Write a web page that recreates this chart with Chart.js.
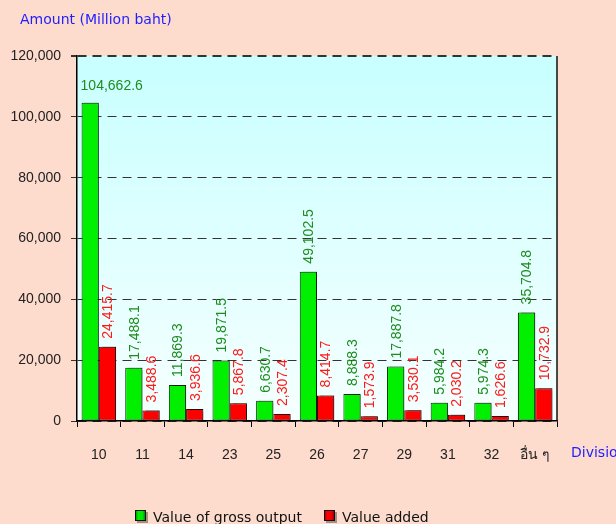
<!DOCTYPE html>
<html>
<head>
<meta charset="utf-8">
<script src="https://cdn.jsdelivr.net/npm/chart.js@4/dist/chart.umd.min.js"></script>
<style>
  html, body { margin: 0; padding: 0; background: #FDDCCD; }
  #wrap { width: 616px; height: 524px; position: relative; }
</style>
</head>
<body>
<div id="wrap"><canvas id="c" width="616" height="524"></canvas></div>
<script>
const categories = ['10', '11', '14', '23', '25', '26', '27', '29', '31', '32', 'อื่น ๆ'];
const grossOutput = [104662.6, 17488.1, 11869.3, 19871.5, 6630.7, 49102.5, 8888.3, 17887.8, 5984.2, 5974.3, 35704.8];
const valueAdded = [24415.7, 3488.6, 3936.6, 5867.8, 2307.4, 8414.7, 1573.9, 3530.1, 2030.2, 1626.6, 10732.9];
const yTicks = [0, 20000, 40000, 60000, 80000, 100000, 120000];
const seriesNames = ['Value of gross output', 'Value added'];
const yTitle = 'Amount (Million baht)';
const xTitle = 'Division';

const NUM_FONT = '"Liberation Sans", Arial, sans-serif';
const TXT_FONT = '"DejaVu Sans", Verdana, sans-serif';

function fmt(v) {
  return v.toLocaleString('en-US', { minimumFractionDigits: 1, maximumFractionDigits: 1 });
}

function barGradient(stops) {
  return function (context) {
    const chart = context.chart;
    const el = context.element;
    if (!chart.chartArea || !el || el.x === undefined || !isFinite(el.x)) return stops[1][1];
    const w = el.width || 16;
    const g = chart.ctx.createLinearGradient(el.x - w / 2, 0, el.x + w / 2, 0);
    stops.forEach(s => g.addColorStop(s[0], s[1]));
    return g;
  };
}

const greenStops = [[0, '#007A00'], [0.3, '#00F000'], [0.7, '#00E400'], [1, '#006400']];
const redStops = [[0, '#A00000'], [0.3, '#FF0000'], [0.7, '#EE0000'], [1, '#700000']];

const bgPlugin = {
  id: 'bgPlugin',
  beforeDraw(chart) {
    const { ctx, chartArea: a } = chart;
    ctx.save();
    ctx.fillStyle = '#FDDCCD';
    ctx.fillRect(0, 0, chart.width, chart.height);
    const g = ctx.createLinearGradient(0, a.top, 0, a.bottom);
    g.addColorStop(0, '#C8FFFF');
    g.addColorStop(1, '#F6FFFF');
    ctx.fillStyle = g;
    ctx.fillRect(a.left, a.top, a.right - a.left, a.bottom - a.top);
    ctx.restore();
  },
  beforeDatasetsDraw(chart) {
    const ctx = chart.ctx;
    ctx.save();
    ctx.shadowColor = 'rgba(0,0,0,0.35)';
    ctx.shadowOffsetX = 3;
    ctx.shadowOffsetY = -1;
    ctx.shadowBlur = 1;
  },
  afterDatasetsDraw(chart) {
    const ctx = chart.ctx;
    ctx.restore();
    const a = chart.chartArea;
    ctx.save();
    ctx.strokeStyle = '#111';
    ctx.lineWidth = 1.5;
    ctx.beginPath();
    ctx.moveTo(a.right, a.top);
    ctx.lineTo(a.right, a.bottom);
    ctx.stroke();
    ctx.restore();

    const colors = ['#1E8C1E', '#FF1A1A'];
    ctx.save();
    ctx.font = '14px ' + NUM_FONT;
    chart.data.datasets.forEach((ds, di) => {
      const meta = chart.getDatasetMeta(di);
      meta.data.forEach((bar, i) => {
        const text = fmt(ds.data[i]);
        const tw = ctx.measureText(text).width;
        ctx.fillStyle = colors[di];
        if (bar.y - 8 - tw < a.top + 2) {
          ctx.textAlign = 'left';
          ctx.textBaseline = 'alphabetic';
          ctx.fillText(text, bar.x - bar.width / 2 - 1, bar.y - 13);
        } else {
          ctx.save();
          ctx.translate(bar.x + 1, bar.y - 8);
          ctx.rotate(-Math.PI / 2);
          ctx.textAlign = 'left';
          ctx.textBaseline = 'middle';
          ctx.fillText(text, 0, 0);
          ctx.restore();
        }
      });
    });
    ctx.restore();
  },
  afterDraw(chart) {
    const ctx = chart.ctx;
    ctx.save();
    ctx.fillStyle = '#1E1EFF';
    ctx.font = '14px ' + TXT_FONT;
    ctx.textAlign = 'left';
    ctx.textBaseline = 'middle';
    ctx.fillText(yTitle, 20, 20);
    ctx.fillText(xTitle, 571, 453);

    const items = [
      { x: 135, fill: greenStops, text: seriesNames[0] },
      { x: 324, fill: redStops, text: seriesNames[1] }
    ];
    items.forEach(it => {
      const g = ctx.createLinearGradient(it.x, 0, it.x + 11, 0);
      it.fill.forEach(s => g.addColorStop(s[0], s[1]));
      ctx.fillStyle = 'rgba(0,0,0,0.35)';
      ctx.fillRect(it.x + 2, 512, 11, 11);
      ctx.fillStyle = g;
      ctx.fillRect(it.x, 510, 11, 11);
      ctx.strokeStyle = '#111';
      ctx.lineWidth = 1;
      ctx.strokeRect(it.x + 0.5, 510.5, 10, 10);
      ctx.fillStyle = '#111';
      ctx.textBaseline = 'alphabetic';
      ctx.font = '14px ' + TXT_FONT;
      ctx.fillText(it.text, it.x + 18, 522);
    });
    ctx.restore();
  }
};

new Chart(document.getElementById('c'), {
  type: 'bar',
  data: {
    labels: categories,
    datasets: [
      {
        label: seriesNames[0],
        data: grossOutput,
        backgroundColor: barGradient(greenStops),
        borderColor: '#003300',
        borderWidth: 1,
        borderSkipped: false,
        categoryPercentage: 0.79,
        barPercentage: 1.0
      },
      {
        label: seriesNames[1],
        data: valueAdded,
        backgroundColor: barGradient(redStops),
        borderColor: '#330000',
        borderWidth: 1,
        borderSkipped: false,
        categoryPercentage: 0.79,
        barPercentage: 1.0
      }
    ]
  },
  options: {
    responsive: false,
    animation: false,
    devicePixelRatio: 1,
    layout: { padding: { left: 0, top: 56, right: 59, bottom: 43 } },
    plugins: {
      legend: { display: false },
      tooltip: { enabled: false }
    },
    scales: {
      x: {
        afterFit(scale) { scale.height = 60; },
        grid: {
          display: true,
          drawOnChartArea: false,
          offset: true,
          color: '#000',
          tickLength: 6,
          tickColor: '#000'
        },
        border: { display: true, color: '#000', width: 1.5 },
        ticks: {
          color: '#222',
          padding: 20,
          font: { size: 14, family: NUM_FONT + ', "DejaVu Sans"' },
          maxRotation: 0,
          autoSkip: false
        }
      },
      y: {
        min: yTicks[0],
        max: yTicks[yTicks.length - 1],
        afterFit(scale) { scale.width = 77; },
        afterBuildTicks(scale) { scale.ticks = yTicks.map(v => ({ value: v })); },
        grid: {
          color: '#333',
          lineWidth: ctx => (ctx.tick && ctx.tick.value === 120000 ? 2 : 1),
          tickLength: 6,
          tickColor: '#333',
          tickBorderDash: [9, 6]
        },
        border: { display: true, color: '#000', width: 1.5, dash: [9, 6] },
        ticks: {
          color: '#222',
          padding: 10,
          font: { size: 14, family: NUM_FONT },
          callback: v => v.toLocaleString('en-US')
        }
      }
    }
  },
  plugins: [bgPlugin]
});
</script>
</body>
</html>
